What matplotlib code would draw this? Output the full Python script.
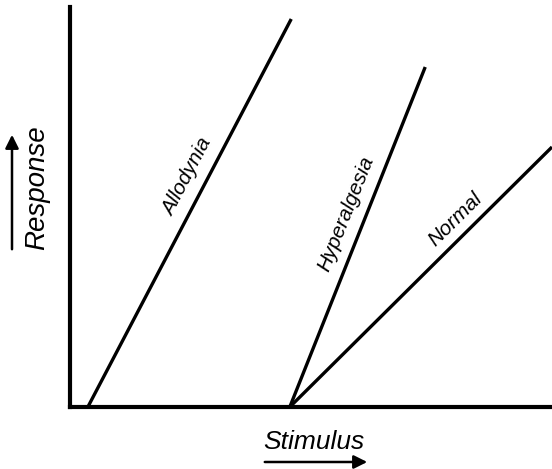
import matplotlib
matplotlib.use("Agg")
import matplotlib.pyplot as plt
import numpy as np

plt.rcParams['font.family'] = ['Liberation Sans', 'DejaVu Sans']

# Data (arbitrary stimulus / response units)
curve_names = ["Allodynia", "Hyperalgesia", "Normal"]
x_start = [0.37, 4.56, 4.56]
x_end = [4.59, 7.37, 10.0]
y_end = [9.7, 8.5, 6.5]
label_x = [2.43, 5.73, 8.0]
label_y = [5.75, 4.83, 4.68]

W, H = 552, 469
fig = plt.figure(figsize=(W / 100, H / 100), dpi=100)
ax_left, ax_right, ax_bottom, ax_top = 70, 552, 407, 7
ax = fig.add_axes([ax_left / W, (H - ax_bottom) / H,
                   (ax_right - ax_left) / W, (ax_bottom - ax_top) / H])
ax.set_xlim(0, 10)
ax.set_ylim(0, 10)

for xs, xe, ye in zip(x_start, x_end, y_end):
    ax.plot([xs, xe], [0, ye], color='black', lw=2.4, solid_capstyle='butt', clip_on=False)

# label rotation from line angle in display space
fig.canvas.draw()
for name, xs, xe, ye, lx, ly in zip(curve_names, x_start, x_end, y_end, label_x, label_y):
    p0 = ax.transData.transform((xs, 0))
    p1 = ax.transData.transform((xe, ye))
    ang = np.degrees(np.arctan2(p1[1] - p0[1], p1[0] - p0[0]))
    ax.text(lx, ly, name, rotation=ang, rotation_mode='anchor', ha='center', va='center',
            fontsize=15, style='italic')

for s in ['top', 'right']:
    ax.spines[s].set_visible(False)
for s in ['left', 'bottom']:
    ax.spines[s].set_linewidth(3)
ax.set_xticks([])
ax.set_yticks([])

# Axis labels with arrows
fig.text(314 / W, 1 - 442 / H, "Stimulus", ha='center', va='center', fontsize=19, style='italic')
fig.text(37 / W, 1 - 188 / H, "Response", ha='center', va='center', fontsize=20, style='italic',
         rotation=90)
fig.add_artist(matplotlib.patches.FancyArrowPatch(
    (262 / W, 1 - 462 / H), (370 / W, 1 - 462 / H), transform=fig.transFigure,
    arrowstyle='-|>,head_length=8,head_width=4', color='black', lw=1.8, mutation_scale=1))
fig.add_artist(matplotlib.patches.FancyArrowPatch(
    (12 / W, 1 - 252 / H), (12 / W, 1 - 132 / H), transform=fig.transFigure,
    arrowstyle='-|>,head_length=8,head_width=4', color='black', lw=1.8, mutation_scale=1))

fig.savefig("out.png", dpi=100)
